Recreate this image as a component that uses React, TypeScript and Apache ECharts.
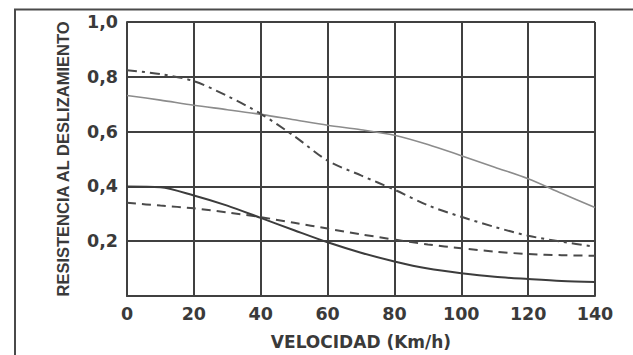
import React, { useEffect, useRef } from "react";
import * as echarts from "echarts";

const velocities = [0, 10, 20, 30, 40, 50, 60, 70, 80, 90, 100, 110, 120, 130, 140];
const upperSolid = [0.732, 0.715, 0.696, 0.68, 0.663, 0.643, 0.623, 0.607, 0.587, 0.553, 0.512, 0.47, 0.428, 0.375, 0.323];
const dashDot = [0.824, 0.81, 0.784, 0.73, 0.665, 0.584, 0.494, 0.44, 0.388, 0.331, 0.289, 0.252, 0.22, 0.198, 0.18];
const dashed = [0.34, 0.33, 0.32, 0.305, 0.288, 0.267, 0.246, 0.225, 0.206, 0.188, 0.174, 0.162, 0.153, 0.149, 0.147];
const lowerSolid = [0.4, 0.397, 0.367, 0.33, 0.285, 0.24, 0.196, 0.158, 0.126, 0.1, 0.083, 0.07, 0.062, 0.055, 0.051];

const xTicks = [0, 20, 40, 60, 80, 100, 120, 140];
const yTickLabels = ["", "0,2", "0,4", "0,6", "0,8", "1,0"];

const xTitle = "VELOCIDAD (Km/h)";
const yTitle = "RESISTENCIA AL DESLIZAMIENTO";

const pairs = (vals: number[]) => velocities.map((v, i) => [v, vals[i]]);

export default function App() {
  const ref = useRef<HTMLDivElement>(null);
  useEffect(() => {
    if (!ref.current) return;
    const chart = echarts.init(ref.current, undefined, { renderer: "svg" });
    const textColor = "#3a3a3a";
    const gridColor = "#404040";
    const tickFont = "DejaVu Sans";
    chart.setOption({
      animation: false,
      backgroundColor: "#ffffff",
      grid: { left: 127, right: 38, top: 22, bottom: 57, show: false },
      xAxis: {
        type: "value",
        min: xTicks[0],
        max: xTicks[xTicks.length - 1],
        interval: 20,
        name: xTitle,
        nameLocation: "middle",
        nameGap: 37,
        nameTextStyle: { color: textColor, fontFamily: tickFont, fontWeight: "bold", fontSize: 17 },
        axisLine: { show: true, lineStyle: { color: gridColor, width: 2 } },
        axisTick: { show: false },
        axisLabel: { color: textColor, fontFamily: tickFont, fontWeight: "bold", fontSize: 17.5, margin: 9 },
        splitLine: { show: true, lineStyle: { color: gridColor, width: 2 } },
      },
      yAxis: {
        type: "value",
        min: 0,
        max: 1,
        interval: 0.2,
        name: yTitle,
        nameLocation: "middle",
        nameGap: 56,
        nameRotate: 90,
        nameTextStyle: { color: textColor, fontFamily: "Liberation Sans", fontWeight: "bold", fontSize: 16.5 },
        axisLine: { show: true, lineStyle: { color: gridColor, width: 2 } },
        axisTick: { show: false },
        axisLabel: {
          color: textColor,
          fontFamily: tickFont,
          fontWeight: "bold",
          fontSize: 17.5,
          margin: 9,
          formatter: (v: number) => yTickLabels[Math.round(v / 0.2)] ?? "",
        },
        splitLine: { show: true, lineStyle: { color: gridColor, width: 2 } },
      },
      graphic: [
        {
          type: "polyline",
          shape: { points: [[15, 355], [15, 9.5], [633, 9.5]] },
          style: { stroke: "#4a4a4a", lineWidth: 2, fill: "none" },
          silent: true,
        },
      ],
      series: [
        {
          type: "line",
          data: pairs(upperSolid),
          smooth: 0.3,
          showSymbol: false,
          lineStyle: { color: "#8c8c8c", width: 1.6, type: "solid" },
        },
        {
          type: "line",
          data: pairs(dashDot),
          smooth: 0.3,
          showSymbol: false,
          lineStyle: { color: "#4a4a4a", width: 2, type: [10, 5, 3, 5] },
        },
        {
          type: "line",
          data: pairs(dashed),
          smooth: 0.3,
          showSymbol: false,
          lineStyle: { color: "#4a4a4a", width: 2, type: [9, 6] },
        },
        {
          type: "line",
          data: pairs(lowerSolid),
          smooth: 0.3,
          showSymbol: false,
          lineStyle: { color: "#3c3c3c", width: 2, type: "solid" },
        },
      ],
    });
    return () => chart.dispose();
  }, []);
  return (
    <div
      ref={ref}
      style={{ position: "fixed", left: 0, top: 0, width: 633, height: 355 }}
    />
  );
}
